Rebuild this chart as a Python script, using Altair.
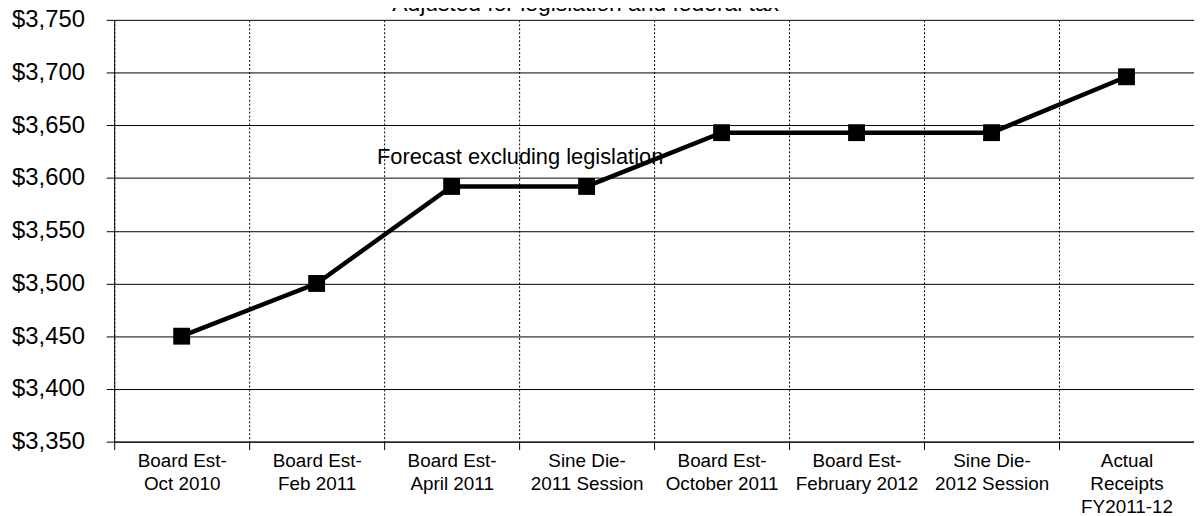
import altair as alt
import pandas as pd

categories = [
    "Board Est-|Oct 2010",
    "Board Est-|Feb 2011",
    "Board Est-|April 2011",
    "Sine Die-|2011 Session",
    "Board Est-|October 2011",
    "Board Est-|February 2012",
    "Sine Die-|2012 Session",
    "Actual|Receipts|FY2011-12",
]
values = [3450, 3500, 3592, 3592, 3643, 3643, 3643, 3696]
y_ticks = [3350, 3400, 3450, 3500, 3550, 3600, 3650, 3700, 3750]
title_text = "Adjusted for legislation and federal tax"
note_text = "Forecast excluding legislation"
note_cat = "Sine Die-|2011 Session"
note_value = 3613

df = pd.DataFrame({"cat": categories, "v": values})
note_df = pd.DataFrame({"cat": [note_cat], "v": [note_value], "t": [note_text]})
title_df = pd.DataFrame({"t": [title_text]})

FONT = "Liberation Sans"

x_enc = alt.X(
    "cat:N",
    sort=categories,
    scale=alt.Scale(paddingInner=0, paddingOuter=0),
    axis=alt.Axis(
        title=None,
        labelAngle=0,
        tickBand="extent",
        grid=True,
        gridDash=[2, 2],
        gridColor="#000000",
        gridWidth=1,
        tickColor="#000000",
        tickSize=8,
        domainColor="#000000",
        labelExpr="split(datum.label, '|')",
        labelFont=FONT,
        labelFontSize=19,
        labelLineHeight=23,
        labelColor="#000000",
        labelPadding=2,
        labelBaseline="top",
    ),
)
y_enc = alt.Y(
    "v:Q",
    scale=alt.Scale(domain=[3350, 3750], nice=False, zero=False),
    axis=alt.Axis(
        title=None,
        values=y_ticks,
        format="$,.0f",
        grid=True,
        gridColor="#000000",
        gridWidth=1,
        tickColor="#000000",
        tickSize=8,
        domainColor="#000000",
        labelFont=FONT,
        labelFontSize=24,
        labelColor="#000000",
        labelPadding=22,
    ),
)

base = alt.Chart(df).encode(x=x_enc, y=y_enc)
line = base.mark_line(color="#000000", strokeWidth=4.5)
pts = base.mark_point(shape="square", filled=True, size=289, color="#000000", opacity=1)

note = alt.Chart(note_df).mark_text(
    font=FONT, fontSize=22, color="#000000", baseline="alphabetic", align="center", dx=-67
).encode(x=alt.X("cat:N", sort=categories), y="v:Q", text="t:N")

title = alt.Chart(title_df).mark_text(
    font=FONT, fontSize=23, color="#000000", baseline="alphabetic", align="center"
).encode(x=alt.value(475), y=alt.value(-9), text="t:N")

chart = (
    alt.layer(line, pts, note, title)
    .properties(
        width=1088,
        height=425,
        autosize=alt.AutoSizeParams(type="none"),
        padding={"left": 107, "top": 10, "right": 0, "bottom": 73},
        background="white",
    )
    .configure_view(stroke=None)
)

chart.save("out.html", embed_options={"renderer": "svg", "actions": False})
